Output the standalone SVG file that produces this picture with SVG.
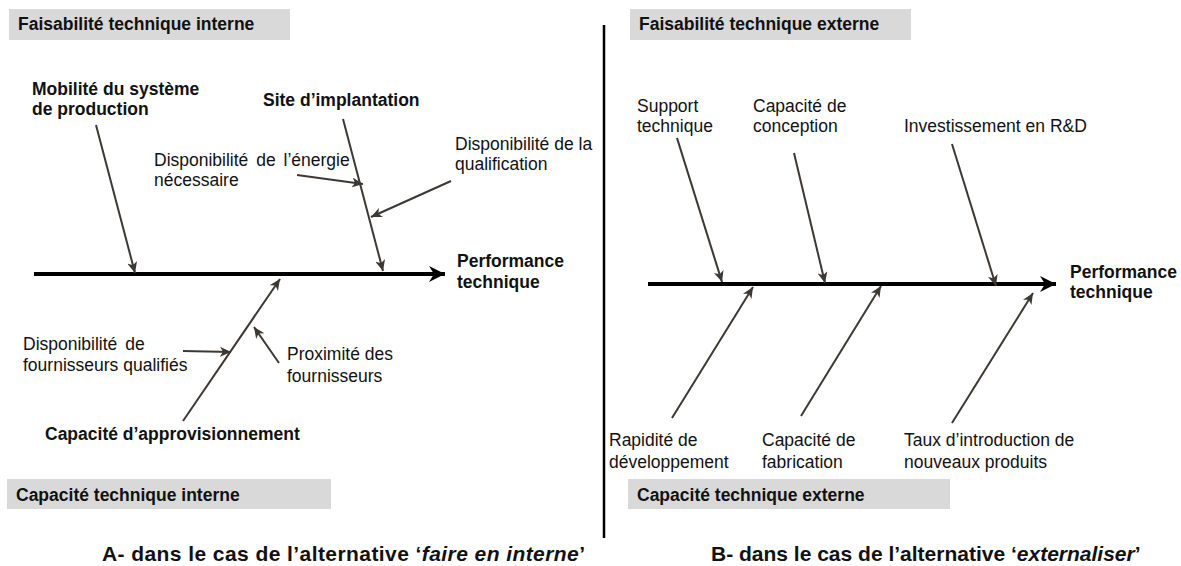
<svg xmlns="http://www.w3.org/2000/svg" width="1181" height="566" viewBox="0 0 1181 566">
<style>
text{font-family:"Liberation Sans",Arial,sans-serif;font-size:17.5px;fill:#111}
.b{font-weight:bold}
.cap{font-weight:bold;font-size:21px}
.box{fill:#d9d9d9}
.br{stroke:#3d3833;stroke-width:2;fill:none;marker-end:url(#ah)}
.sp{stroke:#000;stroke-width:4;fill:none;marker-end:url(#sh)}
.ws{word-spacing:3px}
</style>
<defs>
<marker id="ah" markerUnits="userSpaceOnUse" viewBox="0 0 12 10" refX="11" refY="5" markerWidth="12" markerHeight="10" orient="auto">
<path d="M0,0 L11,5 L0,10 L3,5 z" fill="#3d3833"/>
</marker>
<marker id="sh" markerUnits="userSpaceOnUse" viewBox="0 0 17 18" refX="16" refY="9" markerWidth="17" markerHeight="18" orient="auto">
<path d="M0,1 L16,9 L0,17 L5,9 z" fill="#000"/>
</marker>
</defs>

<g id="left-header"><rect class="box" x="9" y="9" width="281" height="31"/><text class="b" x="18" y="30">Faisabilité technique interne</text></g>
<g id="left-footer"><rect class="box" x="7" y="479" width="324" height="30"/><text class="b" x="16" y="501">Capacité technique interne</text></g>
<g id="right-header"><rect class="box" x="630" y="9" width="281" height="31"/><text class="b" x="639" y="30">Faisabilité technique externe</text></g>
<g id="right-footer"><rect class="box" x="628" y="479" width="322" height="30"/><text class="b" x="637" y="501">Capacité technique externe</text></g>

<g id="connectors">
<line x1="604" y1="25" x2="604" y2="538" stroke="#000" stroke-width="2.5"/>
<line class="sp" x1="34" y1="274" x2="445" y2="274"/>
<line class="br" x1="96" y1="125" x2="135" y2="273"/>
<line class="br" x1="343" y1="119" x2="383" y2="271"/>
<line class="br" x1="297" y1="175" x2="363" y2="184"/>
<line class="br" x1="451" y1="181" x2="371" y2="217"/>
<line class="br" x1="183" y1="421" x2="280" y2="279"/>
<line class="br" x1="183" y1="351" x2="231" y2="352"/>
<line class="br" x1="279" y1="363" x2="254" y2="327"/>
<line class="sp" x1="648" y1="284" x2="1056" y2="284"/>
<line class="br" x1="677" y1="138" x2="722" y2="282"/>
<line class="br" x1="794" y1="153" x2="825" y2="283"/>
<line class="br" x1="952" y1="144" x2="996" y2="286"/>
<line class="br" x1="672" y1="418" x2="753" y2="287"/>
<line class="br" x1="801" y1="416" x2="881" y2="286"/>
<line class="br" x1="952" y1="423" x2="1033" y2="293"/>
</g>

<g id="mobilite"><text class="b" x="32" y="95">Mobilité du système</text><text class="b" x="32" y="115">de production</text></g>
<g id="site"><text class="b" x="263" y="106">Site d’implantation</text></g>
<g id="energie"><text class="ws" x="154" y="166">Disponibilité de l’énergie</text><text x="154" y="186">nécessaire</text></g>
<g id="qualification"><text x="455" y="150">Disponibilité de la</text><text x="455" y="170">qualification</text></g>
<g id="perf-a"><text class="b" x="457" y="267">Performance</text><text class="b" x="457" y="288">technique</text></g>
<g id="fournisseurs-qualifies"><text class="ws" x="23" y="350">Disponibilité de</text><text x="23" y="371">fournisseurs qualifiés</text></g>
<g id="proximite"><text x="287" y="360">Proximité des</text><text x="287" y="382">fournisseurs</text></g>
<g id="approvisionnement"><text class="b" x="45" y="440">Capacité d’approvisionnement</text></g>
<g id="caption-a"><text class="cap" x="102" y="561" textLength="483" lengthAdjust="spacing">A- dans le cas de l’alternative ‘<tspan font-style="italic">faire en interne</tspan>’</text></g>

<g id="support"><text x="637" y="112">Support</text><text x="637" y="132">technique</text></g>
<g id="conception"><text x="753" y="112">Capacité de</text><text x="753" y="132">conception</text></g>
<g id="rd"><text x="904" y="132">Investissement en R&amp;D</text></g>
<g id="perf-b"><text class="b" x="1070" y="278">Performance</text><text class="b" x="1070" y="298">technique</text></g>
<g id="rapidite"><text x="609" y="446">Rapidité de</text><text x="609" y="468">développement</text></g>
<g id="fabrication"><text x="762" y="446">Capacité de</text><text x="762" y="468">fabrication</text></g>
<g id="taux"><text x="904" y="446">Taux d’introduction de</text><text x="904" y="468">nouveaux produits</text></g>
<g id="caption-b"><text class="cap" x="711" y="561">B- dans le cas de l’alternative ‘<tspan font-style="italic">externaliser</tspan>’</text></g>
</svg>
